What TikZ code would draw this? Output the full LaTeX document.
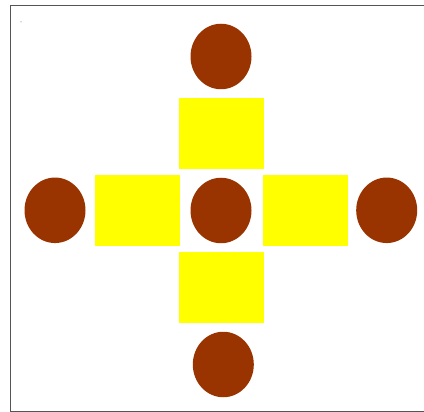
\documentclass[tikz,border=0pt]{standalone}
\usetikzlibrary{shapes.geometric}
\definecolor{brownred}{HTML}{993300}
\definecolor{sqyellow}{HTML}{FFFF00}
\definecolor{framegray}{HTML}{555555}
\tikzset{
  disc/.style={ellipse, fill=brownred, draw=none, inner sep=0pt, minimum width=61pt, minimum height=65.5pt},
  sq/.style={rectangle, fill=sqyellow, draw=none, inner sep=0pt, minimum width=85pt, minimum height=71pt},
}
\begin{document}
\begin{tikzpicture}[x=1pt,y=-1pt]
\useasboundingbox (0,0) rectangle (424,412);
\begin{scope}
\clip (0,0) rectangle (424,412);
\draw[framegray, line width=1pt] (10,6) rectangle (440,411);
\end{scope}
\fill[framegray] (21,22) circle (0.5pt);
\node[disc] (ctop) at (221,56.5) {};
\node[sq] (stop) at (221.5,133.2) {};
\node[sq] (sleft) at (137.2,211) {};
\node[sq] (sright) at (305.2,211) {};
\node[sq] (sbot) at (221.5,287.2) {};
\node[disc] (cleft) at (55,210.3) {};
\node[disc] (cmid) at (221,210.5) {};
\node[disc] (cright) at (386.7,210.3) {};
\node[disc] (cbot) at (223.3,364.5) {};
\end{tikzpicture}
\end{document}
